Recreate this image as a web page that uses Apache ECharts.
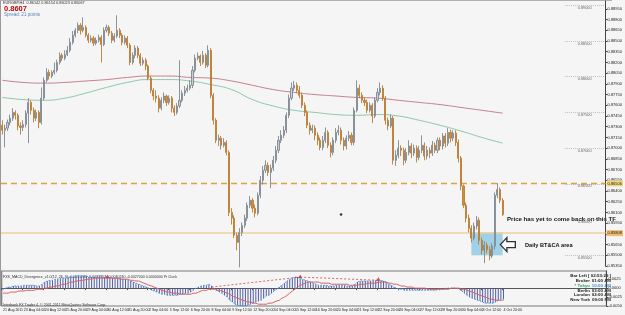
<!DOCTYPE html>
<html><head><meta charset="utf-8">
<script src="https://cdn.jsdelivr.net/npm/echarts@6/dist/echarts.min.js"></script>
<style>html,body{margin:0;padding:0;background:#f5f5f5;overflow:hidden}#chart{width:625px;height:315px}</style>
</head><body><div id="chart"></div>
<script>
const tickLabels = ["21 Aug 2011","23 Aug 04:00","24 Aug 12:00","25 Aug 20:00","29 Aug 04:00","30 Aug 12:00","31 Aug 20:00","2 Sep 04:00","5 Sep 12:00","6 Sep 20:00","8 Sep 04:00","9 Sep 12:00","12 Sep 20:00","14 Sep 04:00","15 Sep 12:00","16 Sep 20:00","20 Sep 04:00","21 Sep 12:00","22 Sep 20:00","26 Sep 04:00","27 Sep 12:00","28 Sep 20:00","30 Sep 04:00","3 Oct 12:00","4 Oct 20:00"];

// [open, close, low, high]
const candles = [
[.8732,.8725,.8719,.8739],[.8725,.8728,.8701,.8733],[.8728,.8736,.8724,.8740],[.8736,.8742,.8732,.8747],[.8742,.8750,.8738,.8756],
[.8750,.8746,.8740,.8753],[.8746,.8731,.8725,.8749],[.8731,.8729,.8719,.8736],[.8729,.8733,.8724,.8739],[.8733,.8749,.8729,.8753],
[.8749,.8764,.8707,.8770],[.8764,.8753,.8747,.8767],[.8753,.8742,.8736,.8757],[.8742,.8750,.8738,.8754],[.8750,.8736,.8728,.8753],
[.8736,.8770,.8733,.8785],[.8770,.8795,.8767,.8799],[.8795,.8806,.8792,.8812],[.8806,.8801,.8796,.8810],[.8801,.8806,.8798,.8809],
[.8806,.8809,.8803,.8820],[.8809,.8820,.8806,.8824],[.8820,.8830,.8817,.8834],[.8830,.8826,.8822,.8833],[.8826,.8831,.8823,.8837],
[.8831,.8837,.8829,.8843],[.8837,.8848,.8834,.8854],[.8848,.8858,.8845,.8864],[.8858,.8865,.8855,.8868],[.8865,.8872,.8861,.8876],
[.8872,.8865,.8859,.8875],[.8865,.8869,.8862,.8883],[.8869,.8858,.8855,.8872],[.8858,.8851,.8847,.8861],[.8851,.8854,.8848,.8858],
[.8854,.8847,.8843,.8857],[.8847,.8851,.8844,.8855],[.8851,.8855,.8848,.8859],[.8855,.8845,.8820,.8858],[.8845,.8865,.8843,.8869],
[.8865,.8869,.8862,.8873],[.8869,.8861,.8857,.8872],[.8861,.8851,.8847,.8864],[.8851,.8857,.8848,.8861],[.8857,.8865,.8854,.8886],
[.8865,.8858,.8854,.8868],[.8858,.8848,.8844,.8861],[.8848,.8854,.8845,.8858],[.8854,.8844,.8840,.8857],[.8844,.8820,.8816,.8847],
[.8820,.8830,.8817,.8834],[.8830,.8840,.8826,.8844],[.8840,.8830,.8826,.8843],[.8830,.8819,.8815,.8833],[.8819,.8823,.8816,.8827],
[.8823,.8815,.8809,.8826],[.8815,.8798,.8795,.8817],[.8798,.8781,.8777,.8801],[.8781,.8773,.8767,.8784],[.8773,.8770,.8764,.8781],
[.8770,.8756,.8750,.8774],[.8756,.8767,.8753,.8771],[.8767,.8773,.8763,.8778],[.8773,.8764,.8759,.8775],[.8764,.8770,.8761,.8774],
[.8770,.8756,.8750,.8773],[.8756,.8750,.8745,.8760],[.8750,.8759,.8747,.8763],[.8759,.8767,.8756,.8823],[.8767,.8777,.8764,.8781],
[.8777,.8781,.8773,.8787],[.8781,.8784,.8778,.8789],[.8784,.8788,.8781,.8795],[.8788,.8809,.8784,.8815],[.8809,.8826,.8806,.8831],
[.8826,.8829,.8823,.8834],[.8829,.8820,.8815,.8831],[.8820,.8830,.8817,.8836],[.8830,.8816,.8812,.8833],[.8816,.8837,.8813,.8844],
[.8837,.8774,.8770,.8840],[.8774,.8739,.8733,.8777],[.8739,.8711,.8707,.8742],[.8711,.8714,.8703,.8719],[.8714,.8704,.8698,.8717],
[.8704,.8708,.8701,.8714],[.8708,.8694,.8690,.8711],[.8694,.8610,.8605,.8697],[.8610,.8602,.8593,.8616],[.8602,.8578,.8574,.8606],
[.8578,.8568,.8557,.8582],[.8568,.8582,.8533,.8588],[.8582,.8592,.8577,.8596],[.8592,.8602,.8588,.8607],[.8602,.8620,.8598,.8624],
[.8620,.8627,.8616,.8633],[.8627,.8616,.8610,.8630],[.8616,.8609,.8603,.8621],[.8609,.8634,.8606,.8638],[.8634,.8655,.8630,.8661],
[.8655,.8669,.8649,.8675],[.8669,.8676,.8665,.8683],[.8676,.8666,.8661,.8680],[.8666,.8672,.8644,.8677],[.8672,.8683,.8668,.8689],
[.8683,.8697,.8679,.8703],[.8697,.8711,.8693,.8717],[.8711,.8718,.8707,.8725],[.8718,.8725,.8714,.8731],[.8725,.8746,.8721,.8750],
[.8746,.8770,.8742,.8775],[.8770,.8784,.8767,.8792],[.8784,.8788,.8780,.8794],[.8788,.8781,.8777,.8792],[.8781,.8774,.8770,.8787],
[.8774,.8760,.8756,.8778],[.8760,.8750,.8745,.8764],[.8750,.8732,.8728,.8753],[.8732,.8725,.8719,.8736],[.8725,.8728,.8721,.8733],
[.8728,.8718,.8711,.8732],[.8718,.8711,.8704,.8722],[.8711,.8701,.8697,.8715],[.8701,.8711,.8697,.8717],[.8711,.8722,.8707,.8729],
[.8722,.8704,.8700,.8725],[.8704,.8694,.8687,.8708],[.8694,.8711,.8690,.8715],[.8711,.8722,.8707,.8728],[.8722,.8725,.8718,.8732],
[.8725,.8711,.8705,.8729],[.8711,.8703,.8697,.8715],[.8703,.8714,.8698,.8718],[.8714,.8718,.8710,.8724],[.8718,.8708,.8704,.8722],
[.8708,.8753,.8704,.8757],[.8753,.8784,.8750,.8795],[.8784,.8774,.8770,.8789],[.8774,.8767,.8763,.8778],[.8767,.8764,.8759,.8771],
[.8764,.8753,.8749,.8768],[.8753,.8760,.8750,.8764],[.8760,.8745,.8735,.8763],[.8745,.8767,.8742,.8771],[.8767,.8778,.8764,.8784],
[.8778,.8784,.8774,.8792],[.8784,.8770,.8766,.8788],[.8770,.8739,.8733,.8773],[.8739,.8731,.8725,.8743],[.8731,.8742,.8728,.8747],
[.8742,.8683,.8677,.8745],[.8683,.8690,.8675,.8697],[.8690,.8700,.8686,.8711],[.8700,.8697,.8689,.8704],[.8697,.8683,.8676,.8701],
[.8683,.8694,.8679,.8700],[.8694,.8703,.8690,.8711],[.8703,.8693,.8686,.8707],[.8693,.8700,.8689,.8705],[.8700,.8687,.8680,.8704],
[.8687,.8697,.8683,.8703],[.8697,.8704,.8693,.8718],[.8704,.8689,.8683,.8708],[.8689,.8697,.8684,.8703],[.8697,.8693,.8686,.8701],
[.8693,.8704,.8689,.8710],[.8704,.8697,.8693,.8708],[.8697,.8711,.8693,.8715],[.8711,.8703,.8697,.8715],[.8703,.8717,.8698,.8721],
[.8717,.8707,.8701,.8721],[.8707,.8722,.8703,.8728],[.8722,.8714,.8708,.8726],[.8714,.8721,.8710,.8725],[.8721,.8708,.8703,.8725],
[.8708,.8686,.8680,.8712],[.8686,.8647,.8641,.8689],[.8647,.8620,.8616,.8649],[.8620,.8602,.8596,.8624],[.8602,.8588,.8582,.8607],
[.8588,.8574,.8568,.8592],[.8574,.8591,.8571,.8596],[.8591,.8599,.8586,.8605],[.8599,.8571,.8565,.8603],[.8571,.8557,.8551,.8575],
[.8557,.8564,.8539,.8570],[.8564,.8558,.8553,.8568],[.8558,.8549,.8543,.8563],[.8549,.8563,.8546,.8567],[.8563,.8634,.8558,.8638],
[.8634,.8642,.8630,.8651],[.8642,.8627,.8623,.8645],[.8627,.8607,.8605,.8630]
];

// moving averages, read every 8 bars: [barIndex, value]
const maRed = [[0,.8795],[8,.8792],[16,.8791],[24,.8792],[32,.8794],[40,.8796],[48,.8799],[56,.8801],[64,.8801],[72,.8799],[80,.8798],[88,.8794],[96,.8788],[104,.8782],[112,.8778],[120,.8775],[128,.8773],[136,.8771],[144,.8770],[152,.8767],[160,.8764],[168,.8761],[176,.8757],[184,.8753],[192,.8749]];
const maGreen = [[0,.8771],[8,.8768],[16,.8767],[24,.8770],[32,.8777],[40,.8785],[48,.8792],[56,.8796],[64,.8796],[72,.8794],[80,.8789],[88,.8782],[96,.8768],[104,.8759],[112,.8753],[120,.8750],[128,.8747],[136,.8746],[144,.8747],[152,.8745],[160,.8739],[168,.8732],[176,.8724],[184,.8715],[192,.8707]];

const macdMain = [
-0.0003,0,0.0003,0.0003,0.0006,
0.0006,0.0006,0.0006,0.0008,0.0008,0.0008,0.0008,0.0008,0.0006,0.0006,
0.0011,0.0017,0.002,0.0022,0.0022,0.0025,
0.0025,0.0028,0.0028,0.0028,0.0031,0.0031,0.0031,0.0034,0.0034,0.0034,
0.0034,0.0034,0.0031,0.0031,0.0031,0.0031,0.0031,0.0031,0.0031,0.0031,
0.0031,0.0028,0.0028,0.0028,0.0028,0.0025,0.0025,0.0022,0.002,0.0017,
0.0014,0.0011,0.0008,0.0006,0.0003,0,-0.0006,-0.0008,-0.0011,-0.0014,
-0.0017,-0.0017,-0.002,-0.002,-0.002,-0.002,-0.002,-0.0017,-0.0017,-0.0014,-0.0014,-0.0011,
-0.0006,0,0.0003,0.0006,0.0008,0.0008,0.0011,
0.0006,0,-0.0006,-0.0011,-0.0014,-0.002,-0.0025,-0.0034,-0.0039,-0.0045,-0.0048,
-0.005,-0.005,-0.005,-0.0048,-0.0045,-0.0042,-0.0039,-0.0036,-0.0034,-0.0028,
-0.0022,-0.002,-0.0014,-0.0008,-0.0003,0.0003,0.0008,0.0014,0.002,0.0025,
0.0028,0.0031,0.0031,0.0028,0.0025,0.0022,0.002,0.0017,0.0014,0.0011,
0.0008,0.0008,0.0008,0.0008,0.0006,0.0006,0.0006,0.0008,0.0008,0.0008,0.0008,0.0006,0.0006,0.0006,
0.0011,0.0017,0.002,0.002,0.002,0.002,0.002,0.002,0.0022,0.0022,0.0022,0.002,0.0017,0.0011,0.0008,
0.0003,0,-0.0003,-0.0003,-0.0006,-0.0006,-0.0006,-0.0006,-0.0006,-0.0006,-0.0006,-0.0006,-0.0006,-0.0006,-0.0006,-0.0006,-0.0006,-0.0003,-0.0003,-0.0003,0,0,0,0,0,
-0.0003,-0.0008,-0.0014,-0.002,-0.0025,-0.0028,-0.0031,-0.0034,-0.0036,-0.0039,-0.0042,-0.0042,-0.0042,-0.0042,-0.0039,-0.0034,-0.0031,-0.0031
];
const macdSignal = [
-0.0014,-0.0014,-0.0014,-0.0011,-0.0011,-0.0011,-0.0008,-0.0008,-0.0008,-0.0006,-0.0006,-0.0006,-0.0006,-0.0003,-0.0003,
-0.0003,0,0,0.0003,0.0003,0.0006,0.0006,0.0008,0.0011,0.0011,0.0014,0.0017,0.0017,0.002,0.002,0.0022,
0.0022,0.0025,0.0025,0.0025,0.0028,0.0028,0.0028,0.0028,0.0028,0.0028,0.0028,0.0028,0.0028,0.0028,0.0025,0.0025,0.0025,0.0025,0.0022,0.0022,
0.002,0.002,0.0017,0.0014,0.0011,0.0008,0.0006,0.0003,0,-0.0003,-0.0006,-0.0008,-0.0011,-0.0011,-0.0014,-0.0014,-0.0014,-0.0017,-0.0017,-0.0017,-0.0017,-0.0017,
-0.0014,-0.0014,-0.0011,-0.0008,-0.0006,-0.0006,-0.0003,-0.0003,-0.0003,-0.0006,-0.0006,-0.0008,-0.0011,-0.0014,-0.0017,-0.0022,-0.0025,-0.0028,
-0.0031,-0.0034,-0.0036,-0.0039,-0.0039,-0.0042,-0.0042,-0.0045,-0.0045,-0.0045,-0.0045,-0.0042,-0.0042,-0.0039,-0.0036,-0.0034,-0.0028,-0.0025,-0.002,-0.0014,
-0.0008,-0.0003,0.0003,0.0008,0.0011,0.0014,0.0017,0.0017,0.0017,0.0017,0.0017,0.0014,0.0014,0.0014,0.0014,0.0011,0.0011,0.0011,0.0011,0.0011,0.0011,0.0011,0.0008,0.0008,
0.0008,0.0008,0.0011,0.0011,0.0011,0.0014,0.0014,0.0014,0.0014,0.0017,0.0017,0.0017,0.0017,0.0014,0.0014,
0.0011,0.0011,0.0008,0.0006,0.0006,0.0003,0.0003,0.0003,0,0,0,0,0,-0.0003,-0.0003,-0.0003,-0.0003,-0.0003,-0.0003,-0.0003,-0.0003,-0.0003,0,0,0,
0,-0.0003,-0.0003,-0.0006,-0.0008,-0.0011,-0.0014,-0.0017,-0.002,-0.0022,-0.0025,-0.0028,-0.0031,-0.0031,-0.0034,-0.0034,-0.0034,-0.0034
];
const divArrows = [[40,0.0033],[114,0.0033],[144,0.0026]];
const divLines = [[[80,0.0003],[114,0.0031]],[[114,0.0031],[144,0.0022]]];
const lineLevel = 0.86506, zoneLevel = 0.8581, bidPrice = 0.8607;
const roundLevels = [0.89,0.885,0.88,0.875,0.87,0.865,0.86,0.855];
const zone = [180,192,0.8550,0.8582];
const dotPoint = [[130,0.8607]];
const arrowPoint = [[194,0.8565]];
const slotCount = 232;
const cats = Array.from({length:slotCount},(_,i)=>String(i));

const F = 'Liberation Sans';
const tickShown = i => i % 8 === 0 && i / 8 < tickLabels.length;

const chart = echarts.init(document.getElementById('chart'), null, {renderer:'canvas'});

const roundMarks = roundLevels.map(v => [
  {coord:[216, v], lineStyle:{type:[1,1], color:'#9a9a9a', width:0.6},
   label:{show:true, position:'insideMiddleBottom', distance:0.5, formatter:v.toFixed(5), fontSize:3.8, color:'#666', fontFamily:F}},
  {coord:[231, v]}
]);

const option = {
  animation:false,
  backgroundColor:'#f5f5f5',
  grid:[
    {left:1, top:1, width:611, height:265},
    {left:1, top:271, width:611, height:35, show:true, borderColor:'#7a7a7a', borderWidth:1.2, backgroundColor:'transparent'}
  ],
  xAxis:[
    {type:'category', gridIndex:0, data:cats, boundaryGap:true, show:false},
    {type:'category', gridIndex:1, data:cats, boundaryGap:true,
     axisLine:{show:true, lineStyle:{color:'#555', width:1}},
     axisTick:{show:true, length:2, interval:tickShown, lineStyle:{color:'#555'}},
     axisLabel:{show:true, interval:tickShown, formatter:(v,i)=>tickLabels[i/8], fontSize:3.6, color:'#222', align:'left', margin:2, fontFamily:F},
     splitLine:{show:false}}
  ],
  yAxis:[
    {type:'value', gridIndex:0, position:'right', min:0.8535, max:0.8906, interval:0.0015,
     axisLine:{show:true, lineStyle:{color:'#444'}}, axisTick:{show:true, length:2, lineStyle:{color:'#444'}},
     axisLabel:{fontSize:4, color:'#222', margin:2, fontFamily:F, showMaxLabel:false, formatter:v=>v.toFixed(5)},
     splitLine:{show:false}},
    {type:'value', gridIndex:1, position:'right', min:-0.005, max:0.0048, interval:0.0025,
     axisLine:{show:true, lineStyle:{color:'#444'}}, axisTick:{show:true, length:2},
     axisLabel:{fontSize:4, color:'#222', margin:2, fontFamily:F, showMaxLabel:false, formatter:v=>v.toFixed(4)},
     splitLine:{show:false}}
  ],
  series:[
    {type:'line', name:'zone', xAxisIndex:0, yAxisIndex:0, data:[], z:0,
     markArea:{silent:true, itemStyle:{color:'rgba(140,200,228,0.8)'},
       data:[[{xAxis:zone[0], yAxis:zone[3]},{xAxis:zone[1], yAxis:zone[2]}]]}},
    {type:'line', name:'MA slow', xAxisIndex:0, yAxisIndex:0, data:maRed, smooth:0.5, showSymbol:false, z:2,
     lineStyle:{color:'#c4808a', width:1}},
    {type:'line', name:'MA fast', xAxisIndex:0, yAxisIndex:0, data:maGreen, smooth:0.5, showSymbol:false, z:2,
     lineStyle:{color:'#8cc8a8', width:1}},
    {type:'candlestick', name:'EURGBP,H4', xAxisIndex:0, yAxisIndex:0, data:candles, barWidth:1.6, clip:false, z:5,
     itemStyle:{color:'#c9cfd5', color0:'#cf8d3e', borderColor:'#7f8991', borderColor0:'#bb7d33', borderWidth:0.9},
     markLine:{silent:true, symbol:['none','none'], animation:false, precision:5,
       data:[
         {yAxis:lineLevel, lineStyle:{type:[6,4], color:'#d9a441', width:1.3, opacity:1},
          label:{show:true, position:'end', distance:1, formatter:'0.86506', fontSize:4, color:'#222', backgroundColor:'#f3d77e', padding:[1,1], fontFamily:F}},
         {yAxis:zoneLevel, lineStyle:{type:'solid', color:'#eed0a0', width:1.5, opacity:1},
          label:{show:true, position:'end', distance:1, formatter:'0.85808', fontSize:4, color:'#222', backgroundColor:'#eebd72', padding:[1,1], fontFamily:F}},
         {yAxis:bidPrice, lineStyle:{opacity:0},
          label:{show:true, position:'end', distance:1, formatter:'0.86067', fontSize:4, color:'#fff', backgroundColor:'#111', padding:[1,1], fontFamily:F}}
       ].concat(roundMarks)}},
    {type:'scatter', xAxisIndex:0, yAxisIndex:0, data:dotPoint, symbolSize:2.5, itemStyle:{color:'#000'}, z:6},
    {type:'scatter', xAxisIndex:0, yAxisIndex:0, data:arrowPoint, z:7,
     symbol:'path://M0,7 L7,0 L7,4 L16,4 L16,10 L7,10 L7,14 Z', symbolSize:[15,14],
     itemStyle:{color:'#ffffff', borderColor:'#000', borderWidth:1.3}},
    {type:'bar', name:'MACD hist', xAxisIndex:1, yAxisIndex:1, data:macdMain, barWidth:1,
     itemStyle:{color:'#4f5ca4'}, z:2},
    {type:'line', name:'MACD', xAxisIndex:1, yAxisIndex:1, data:macdMain, showSymbol:false, z:3,
     lineStyle:{color:'#4a9ae0', width:1, type:[1.5,1.5]}},
    {type:'line', name:'Signal', xAxisIndex:1, yAxisIndex:1, data:macdSignal, showSymbol:false, smooth:0.3, z:4,
     lineStyle:{color:'#d86060', width:1},
     markLine:{silent:true, symbol:['none','none'], precision:5,
       data:divLines.map(s=>[{coord:s[0], lineStyle:{color:'#d04040', width:0.8, type:[2,2]}},{coord:s[1]}]),
       label:{show:false}}},
    {type:'scatter', xAxisIndex:1, yAxisIndex:1, data:divArrows, symbol:'triangle', symbolSize:3.5, itemStyle:{color:'#d02020'}, z:5}
  ],
  graphic:[
    {type:'line', shape:{x1:0.5,y1:0,x2:0.5,y2:306}, style:{stroke:'#9a9a9a', lineWidth:1}},
    {type:'line', shape:{x1:0,y1:0.5,x2:612,y2:0.5}, style:{stroke:'#b0b0b0', lineWidth:1}},
    {type:'text', left:3, top:1, style:{text:'EURGBP,H4  0.86142 0.86154 0.86023 0.86067', fontSize:3.8, fontFamily:F, fill:'#333'}},
    {type:'text', left:4, top:5, style:{text:'0.8607', fontSize:7.5, fontWeight:'bold', fontFamily:F, fill:'#d00000'}},
    {type:'text', left:4, top:12.5, style:{text:'Spread: 21 points', fontSize:4.6, fontFamily:F, fill:'#5a84b8'}},
    {type:'text', left:3, top:275, style:{text:'FXS_MACD_Divergence_v1.0(12, 26, 9) -0.0031209 -0.0033857 -0.0040240 -0.0027000 0.0000000 Pt Clock', fontSize:3.6, fontFamily:F, fill:'#333'}},
    {type:'text', left:3, top:302.5, style:{text:'Interbank FX Trader 4, \u00a9 2001-2011 MetaQuotes Software Corp.', fontSize:3.6, fontFamily:F, fill:'#333'}},
    {type:'text', left:507, top:216, style:{text:'Price has yet to come back on this TF', fontSize:6.1, fontWeight:'bold', fontFamily:F, fill:'#111'}},
    {type:'text', left:525, top:242.5, style:{text:'Daily BT&CA area', fontSize:5.6, fontWeight:'bold', fontFamily:F, fill:'#111'}},
    {type:'text', right:14, top:274, style:{text:'Bar Left [ 02:53:29 ]', fontSize:4.4, fontWeight:'bold', fontFamily:F, fill:'#222'}},
    {type:'text', right:35, top:279, style:{text:'Broker', fontSize:4.4, fontWeight:'bold', fontFamily:F, fill:'#222'}},
    {type:'text', right:14, top:279, style:{text:'01:00 AM', fontSize:4.4, fontWeight:'bold', fontFamily:F, fill:'#222'}},
    {type:'text', right:35, top:283.7, style:{text:'* Tokyo', fontSize:4.4, fontWeight:'bold', fontFamily:F, fill:'#24a868'}},
    {type:'text', right:14, top:283.7, style:{text:'10:00 AM', fontSize:4.4, fontWeight:'bold', fontFamily:F, fill:'#3f8fd8'}},
    {type:'text', right:35, top:288.4, style:{text:'Berlin', fontSize:4.4, fontWeight:'bold', fontFamily:F, fill:'#222'}},
    {type:'text', right:14, top:288.4, style:{text:'03:00 AM', fontSize:4.4, fontWeight:'bold', fontFamily:F, fill:'#222'}},
    {type:'text', right:35, top:293.1, style:{text:'London', fontSize:4.4, fontWeight:'bold', fontFamily:F, fill:'#222'}},
    {type:'text', right:14, top:293.1, style:{text:'02:00 AM', fontSize:4.4, fontWeight:'bold', fontFamily:F, fill:'#222'}},
    {type:'text', right:35, top:297.8, style:{text:'New York', fontSize:4.4, fontWeight:'bold', fontFamily:F, fill:'#222'}},
    {type:'text', right:14, top:297.8, style:{text:'09:00 PM', fontSize:4.4, fontWeight:'bold', fontFamily:F, fill:'#222'}}
  ]
};
chart.setOption(option);
</script>
</body></html>
